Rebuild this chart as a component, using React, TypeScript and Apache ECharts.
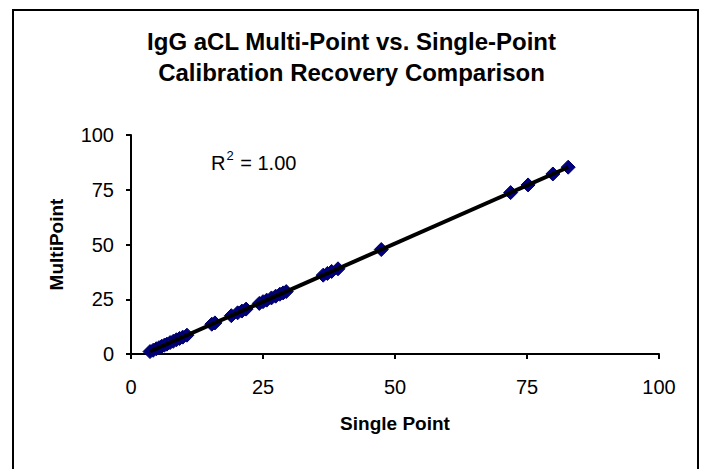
import React, { useEffect, useRef } from "react";
import * as echarts from "echarts";

const titleLines = ["IgG aCL Multi-Point vs. Single-Point", "Calibration Recovery Comparison"];
const xName = "Single Point";
const yName = "MultiPoint";
const xTicks = [0, 25, 50, 75, 100];
const yTicks = [0, 25, 50, 75, 100];
const singlePoint = [
  3.6, 4.2, 4.8, 5.3, 5.8, 6.3, 6.8, 7.4, 8.0, 8.6, 9.2, 9.8, 10.6, 15.3, 15.9, 19.0, 20.2, 21.0,
  21.8, 24.3, 25.0, 25.7, 26.6, 27.4, 28.2, 28.8, 29.4, 36.4, 37.2, 38.0, 39.2, 47.4, 71.9, 75.2,
  79.9, 82.8,
];
const multiPoint = [
  1.1, 1.7, 2.4, 2.9, 3.5, 4.0, 4.5, 5.2, 5.8, 6.5, 7.1, 7.7, 8.6, 13.6, 14.2, 17.5, 18.8, 19.6,
  20.5, 23.1, 23.9, 24.6, 25.6, 26.4, 27.3, 27.9, 28.5, 36.0, 36.8, 37.7, 38.9, 47.7, 73.7, 77.2,
  82.2, 85.3,
];
const r2Label = "1.00";

export default function App() {
  const ref = useRef<HTMLDivElement>(null);
  useEffect(() => {
    if (!ref.current) return;
    const chart = echarts.init(ref.current, undefined, { renderer: "svg" });
    const n = singlePoint.length;
    const mx = singlePoint.reduce((a, b) => a + b, 0) / n;
    const my = multiPoint.reduce((a, b) => a + b, 0) / n;
    let sxy = 0;
    let sxx = 0;
    for (let i = 0; i < n; i++) {
      sxy += (singlePoint[i] - mx) * (multiPoint[i] - my);
      sxx += (singlePoint[i] - mx) ** 2;
    }
    const slope = sxy / sxx;
    const icpt = my - slope * mx;
    const xmin = Math.min(...singlePoint);
    const xmax = Math.max(...singlePoint);
    const trend = [
      [xmin, icpt + slope * xmin],
      [xmax, icpt + slope * xmax],
    ];
    const font = "Arial, 'Liberation Sans', sans-serif";
    chart.setOption({
      animation: false,
      backgroundColor: "#ffffff",
      title: {
        text: titleLines.join("\n"),
        left: "center",
        top: 21,
        textStyle: { fontFamily: font, fontSize: 24, fontWeight: "bold", color: "#000", lineHeight: 31 },
      },
      grid: { left: 131, right: 44, top: 135, bottom: 115, containLabel: false },
      xAxis: {
        type: "value",
        min: xTicks[0],
        max: xTicks[xTicks.length - 1],
        interval: 25,
        name: xName,
        nameLocation: "middle",
        nameGap: 60,
        nameTextStyle: { fontFamily: font, fontSize: 19, fontWeight: "bold", color: "#000" },
        axisLine: { show: true, onZero: false, lineStyle: { color: "#000", width: 2 } },
        axisTick: { show: true, inside: false, length: 5, lineStyle: { color: "#000", width: 2 } },
        axisLabel: { fontFamily: font, fontSize: 20, color: "#000", margin: 23 },
        splitLine: { show: false },
      },
      yAxis: {
        type: "value",
        min: yTicks[0],
        max: yTicks[yTicks.length - 1],
        interval: 25,
        name: yName,
        nameLocation: "middle",
        nameGap: 65,
        nameRotate: 90,
        nameTextStyle: { fontFamily: font, fontSize: 19, fontWeight: "bold", color: "#000" },
        axisLine: { show: true, onZero: false, lineStyle: { color: "#000", width: 2 } },
        axisTick: { show: true, inside: false, length: 5, lineStyle: { color: "#000", width: 2 } },
        axisLabel: { fontFamily: font, fontSize: 20, color: "#000", margin: 17 },
        splitLine: { show: false },
      },
      graphic: [
        {
          type: "rect",
          shape: { x: 13, y: 10, width: 685, height: 500 },
          style: { fill: "none", stroke: "#000", lineWidth: 2 },
          silent: true,
        },
        {
          type: "text",
          x: 211,
          y: 149,
          style: {
            text: "{r|R}{s|2}{r| = " + r2Label + "}",
            rich: {
              r: { fontFamily: font, fontSize: 20, fill: "#000", verticalAlign: "bottom", lineHeight: 24 },
              s: { fontFamily: font, fontSize: 13, fill: "#000", verticalAlign: "top", lineHeight: 24, padding: [0, 1, 10, 1] },
            },
          },
        },
      ],
      series: [
        {
          type: "scatter",
          data: singlePoint.map((x, i) => [x, multiPoint[i]]),
          symbol: "diamond",
          symbolSize: 14,
          itemStyle: { color: "#000080", borderColor: "#000066", borderWidth: 1, opacity: 1 },
          z: 2,
        },
        {
          type: "line",
          data: trend,
          symbol: "none",
          lineStyle: { color: "#000", width: 4 },
          z: 3,
        },
      ],
    });
    return () => chart.dispose();
  }, []);
  return (
    <div
      ref={ref}
      style={{ position: "fixed", left: 0, top: 0, width: 703, height: 469, background: "#fff" }}
    />
  );
}
